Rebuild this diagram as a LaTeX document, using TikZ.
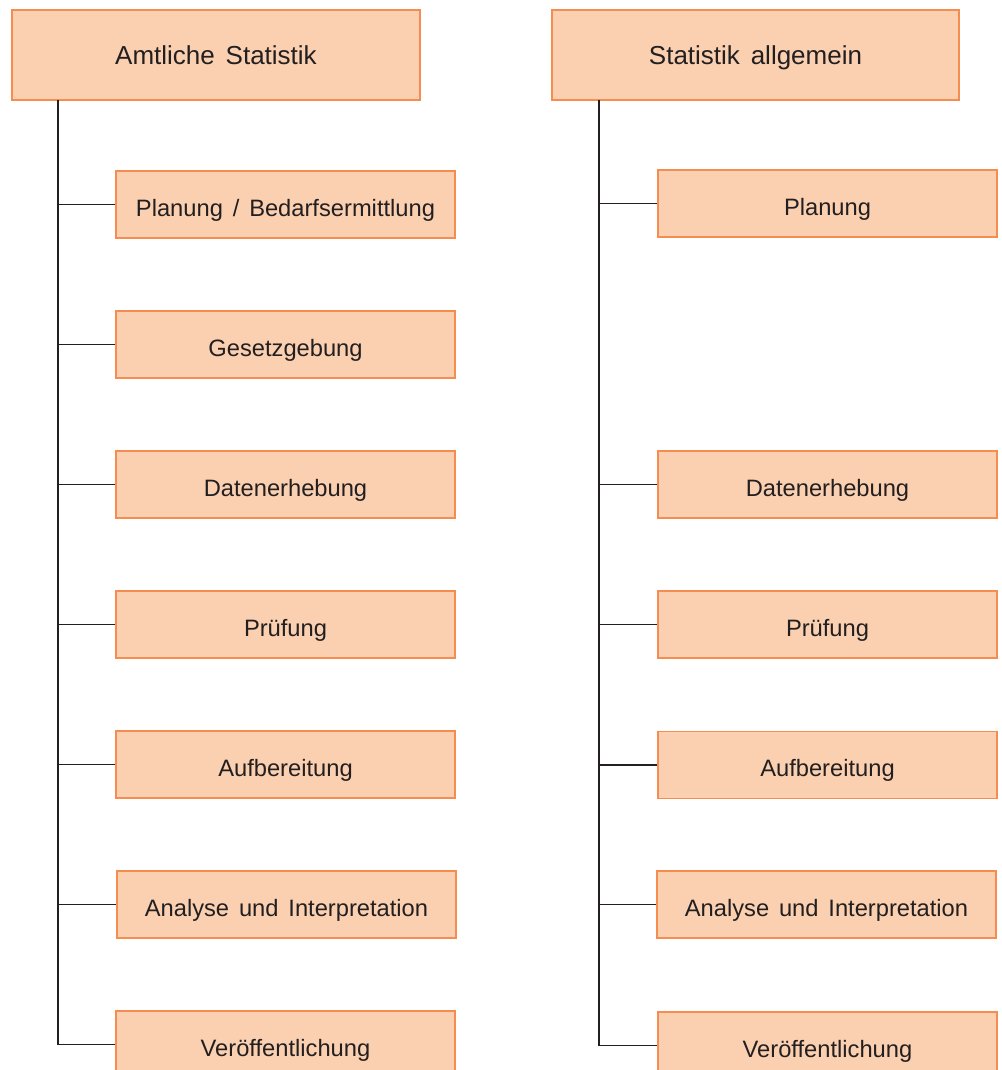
\documentclass[tikz,border=0pt]{standalone}
\usepackage{fontspec}
\setmainfont{Liberation Sans}[WordSpace=1.5]
\definecolor{boxfill}{RGB}{250,208,176}
\definecolor{boxdraw}{RGB}{245,140,80}
\definecolor{ink}{RGB}{35,31,32}
\begin{document}
\begin{tikzpicture}[x=1pt,y=-1pt,
  hdr/.style={draw=boxdraw,fill=boxfill,line width=1.2pt,minimum width=408pt,minimum height=90pt,
    inner sep=0pt,text=ink,font=\fontsize{26}{30}\selectfont,text height=20pt,text depth=0pt},
  stepbox/.style={draw=boxdraw,fill=boxfill,line width=1.2pt,minimum width=339pt,minimum height=67pt,
    inner sep=0pt,text=ink,font=\fontsize{23.7}{27}\selectfont,text height=23pt,text depth=0pt},
  link/.style={draw=ink,line width=1.6pt}]
\useasboundingbox (0,0) rectangle (1001,1070);
\clip (0,0) rectangle (1001,1070);
% left column
\node[hdr] (hL) at (216,55) {Amtliche Statistik};
\node[stepbox] (l1) at (285.5,204.5) {Planung / Bedarfsermittlung};
\node[stepbox] (l2) at (285.5,344.5) {Gesetzgebung};
\node[stepbox] (l3) at (285.5,484.5) {Datenerhebung};
\node[stepbox] (l4) at (285.5,624.5) {Prüfung};
\node[stepbox] (l5) at (285.5,764.5) {Aufbereitung};
\node[stepbox] (l6) at (286.5,904.5) {Analyse und Interpretation};
\node[stepbox] (l7) at (285.5,1044.5) {Veröffentlichung};
\coordinate (tL) at (58,100);
\draw[link] (tL) |- (l7.west);
\foreach \n in {l1,l2,l3,l4,l5,l6} \draw[link] (tL |- \n.west) -- (\n.west);
% right column
\node[hdr,minimum width=407pt] (hR) at (755.5,55) {Statistik allgemein};
\node[stepbox] (r1) at (827.5,203.5) {Planung};
\node[stepbox] (r3) at (827.5,484.5) {Datenerhebung};
\node[stepbox] (r4) at (827.5,624.5) {Prüfung};
\node[stepbox] (r5) at (827.5,765) {Aufbereitung};
\node[stepbox] (r6) at (826.5,904.5) {Analyse und Interpretation};
\node[stepbox] (r7) at (827.5,1045.5) {Veröffentlichung};
\coordinate (tR) at (599,100);
\draw[link] (tR) |- (r7.west);
\foreach \n in {r1,r3,r4,r5,r6} \draw[link] (tR |- \n.west) -- (\n.west);
\end{tikzpicture}
\end{document}
